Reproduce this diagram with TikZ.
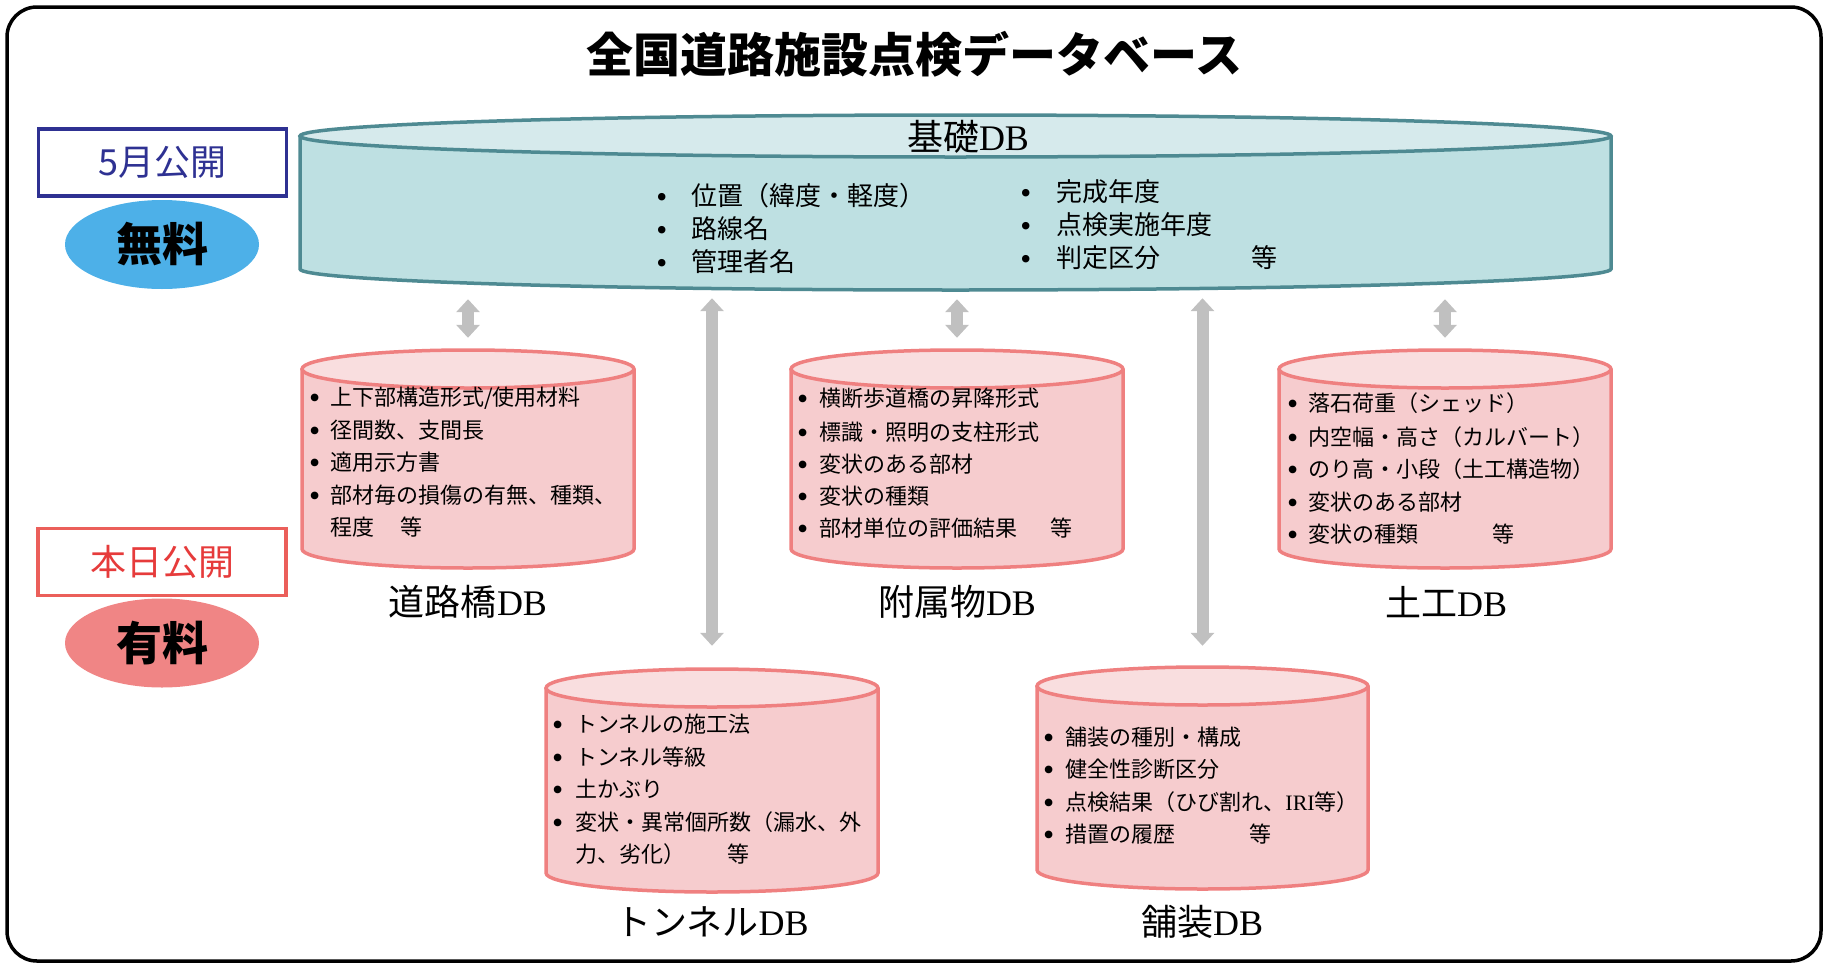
\documentclass[tikz,border=0pt]{standalone}
\usepackage{fontspec}
\setmainfont{Liberation Serif}
\newfontfamily\jp{Noto Sans CJK JP}
\usetikzlibrary{arrows.meta,shapes.geometric}
\definecolor{tealline}{HTML}{4E8A92}
\definecolor{tealbody}{HTML}{BEE0E2}
\definecolor{tealtop}{HTML}{D6EAEC}
\definecolor{pinkline}{HTML}{EF8080}
\definecolor{pinkbody}{HTML}{F6CCCE}
\definecolor{pinktop}{HTML}{F9DEDF}
\definecolor{arrowgray}{HTML}{C0C0C0}
\definecolor{mayblue}{HTML}{2E3192}
\definecolor{todayred}{HTML}{E63B3B}
\definecolor{todayline}{HTML}{EB5F5A}
\definecolor{freeblue}{HTML}{4DB0E8}
\definecolor{paidpink}{HTML}{F08585}
\newcommand\bul[2][1.45]{\llap{\smash{\raisebox{-2.5pt}{\scalebox{#1}{\rmfamily\textbullet}}}\hspace{#2}}}
% name, L, R, top cy, bottom cy, ry, kind
\newcommand\dbcyl[7]{%
  \pgfmathsetmacro\cylcx{(#2+#3)/2}%
  \pgfmathsetmacro\cylrx{(#3-#2)/2}%
  \pgfmathsetmacro\cylw{#3-#2}%
  \pgfmathsetmacro\cylh{(#5+#6)-(#4-#6)}%
  \pgfmathsetmacro\cylcy{((#5+#6)+(#4-#6))/2}%
  \fill[#7body] (#2,#4) -- (#2,#5) arc[start angle=180,end angle=0,x radius=\cylrx,y radius=#6] -- (#3,#4) -- cycle;
  \draw[#7line] (#2,#4) -- (#2,#5) arc[start angle=180,end angle=0,x radius=\cylrx,y radius=#6] -- (#3,#4);
  \draw[#7line,fill=#7top] (\cylcx,#4) ellipse[x radius=\cylrx,y radius=#6];
  \node[inner sep=0pt,minimum width=\cylw pt,minimum height=\cylh pt] (#1) at (\cylcx,\cylcy) {};
}
\begin{document}
\begin{tikzpicture}[x=1pt,y=-1pt,
  tealline/.style={draw=tealline,line width=3.5pt},
  pinkline/.style={draw=pinkline,line width=3.5pt},
  tealbody/.style={fill=tealbody},
  pinkbody/.style={fill=pinkbody},
  item/.style={anchor=base west,inner sep=0pt,font=\jp\fontsize{22}{26}\selectfont},
  bigitem/.style={anchor=base west,inner sep=0pt,font=\jp\fontsize{26}{30}\selectfont},
  dblabel/.style={inner sep=0pt,font=\fontsize{36}{40}\selectfont},
  garrow/.style={draw=arrowgray,line width=12pt,{Triangle[width=23pt,length=13pt]}-{Triangle[width=23pt,length=13pt]}},
  tagbox/.style={draw,line width=3.5pt,minimum width=248pt,minimum height=67pt,inner sep=0pt,font=\jp\fontsize{36}{40}\selectfont},
  tagoval/.style={ellipse,inner sep=0pt,minimum width=194pt,minimum height=89pt,font=\jp\bfseries\fontsize{46}{50}\selectfont}
]
\useasboundingbox (0,0) rectangle (1834,972);
\node[draw,line width=3.5pt,rounded corners=30pt,minimum width=1814pt,minimum height=954pt,inner sep=0pt] (frame) at (914,484) {};
\node[inner sep=0pt,font=\jp\bfseries\fontsize{47}{50}\selectfont] (title) at (914.5,54.5) {全国道路施設点検データベース};

% tags
\node[tagbox,draw=mayblue,text=mayblue] (may) at (162.5,162.5) {5月公開};
\node[tagoval,fill=freeblue] (free) at (162,244.5) {無料};
\node[tagbox,draw=todayline,text=todayred] (today) at (162,562) {本日公開};
\node[tagoval,fill=paidpink] (paid) at (162,643) {有料};

% cylinders
\dbcyl{kiso}{300}{1611}{136}{269}{21}{teal}
\dbcyl{bridge}{302}{634}{369}{549}{19}{pink}
\dbcyl{annex}{791}{1123}{369}{549}{19}{pink}
\dbcyl{earth}{1279}{1611}{369}{549}{19}{pink}
\dbcyl{tunnel}{546}{878}{688}{873}{19}{pink}
\dbcyl{pave}{1037}{1368}{686}{870}{19}{pink}

% arrows
\draw[garrow,shorten <=9pt,shorten >=12pt] (kiso.south -| bridge.north) -- (bridge.north);
\draw[garrow,shorten <=9pt,shorten >=12pt] (kiso.south -| annex.north) -- (annex.north);
\draw[garrow,shorten <=9pt,shorten >=12pt] (kiso.south -| earth.north) -- (earth.north);
\draw[garrow,shorten <=8pt,shorten >=23pt] (kiso.south -| tunnel.north) -- (tunnel.north);
\draw[garrow,shorten <=8pt,shorten >=21pt] (kiso.south -| pave.north) -- (pave.north);

% kiso
\node[dblabel] (kisolab) at (968,137) {{\jp 基礎}DB};
\node[bigitem] (k1) at (691,205) {\bul[1.2]{24pt}位置（緯度・軽度）};
\node[bigitem] (k2) at (691,238) {\bul[1.2]{24pt}路線名};
\node[bigitem] (k3) at (691,271) {\bul[1.2]{24pt}管理者名};
\node[bigitem] (k4) at (1056,201) {\bul[1.2]{25pt}完成年度};
\node[bigitem] (k5) at (1056,234) {\bul[1.2]{25pt}点検実施年度};
\node[bigitem] (k6) at (1056,267) {\bul[1.2]{25pt}\makebox[195pt][l]{判定区分}等};

% bridge
\node[item] (br1) at (330,405.5) {\bul{10pt}上下部構造形式/使用材料};
\node[item] (br2) at (330,438.5) {\bul{10pt}径間数、支間長};
\node[item] (br3) at (330,470.5) {\bul{10pt}適用示方書};
\node[item] (br4) at (330,503.5) {\bul{10pt}部材毎の損傷の有無、種類、};
\node[item] (br5) at (330,535.5) {\makebox[70pt][l]{程度}等};
\node[dblabel] (brlab) at (468,602) {{\jp 道路橋}DB};

% annex
\node[item] (an1) at (819,406.5) {\bul{11pt}横断歩道橋の昇降形式};
\node[item] (an2) at (819,440.5) {\bul{11pt}標識・照明の支柱形式};
\node[item] (an3) at (819,472.5) {\bul{11pt}変状のある部材};
\node[item] (an4) at (819,504.5) {\bul{11pt}変状の種類};
\node[item] (an5) at (819,536.5) {\bul{11pt}\makebox[231pt][l]{部材単位の評価結果}等};
\node[dblabel] (anlab) at (957,602) {{\jp 附属物}DB};

% earthwork
\node[item] (ea1) at (1308,411.5) {\bul{10pt}落石荷重（シェッド）};
\node[item] (ea2) at (1308,445.5) {\bul{10pt}内空幅・高さ（カルバート）};
\node[item] (ea3) at (1308,477.5) {\bul{10pt}のり高・小段（土工構造物）};
\node[item] (ea4) at (1308,510.5) {\bul{10pt}変状のある部材};
\node[item] (ea5) at (1308,542.5) {\bul{10pt}\makebox[184pt][l]{変状の種類}等};
\node[dblabel] (ealab) at (1446,602) {{\jp 土工}DB};

% tunnel
\node[item] (tu1) at (575,732.5) {\bul{12pt}トンネルの施工法};
\node[item] (tu2) at (575,765.5) {\bul{12pt}トンネル等級};
\node[item] (tu3) at (575,797.5) {\bul{12pt}土かぶり};
\node[item] (tu4) at (575,830.5) {\bul{12pt}変状・異常個所数（漏水、外};
\node[item] (tu5) at (575,862.5) {\makebox[152pt][l]{力、劣化）}等};
\node[dblabel] (tulab) at (712,922) {{\jp トンネル}DB};

% pavement
\node[item] (pa1) at (1065,745.5) {\bul{11pt}舗装の種別・構成};
\node[item] (pa2) at (1065,777.5) {\bul{11pt}健全性診断区分};
\node[item] (pa3) at (1065,810.5) {\bul{11pt}点検結果（ひび割れ、{\rmfamily IRI}等）};
\node[item] (pa4) at (1065,842.5) {\bul{11pt}\makebox[184pt][l]{措置の履歴}等};
\node[dblabel] (palab) at (1202,922) {{\jp 舗装}DB};
\end{tikzpicture}
\end{document}
